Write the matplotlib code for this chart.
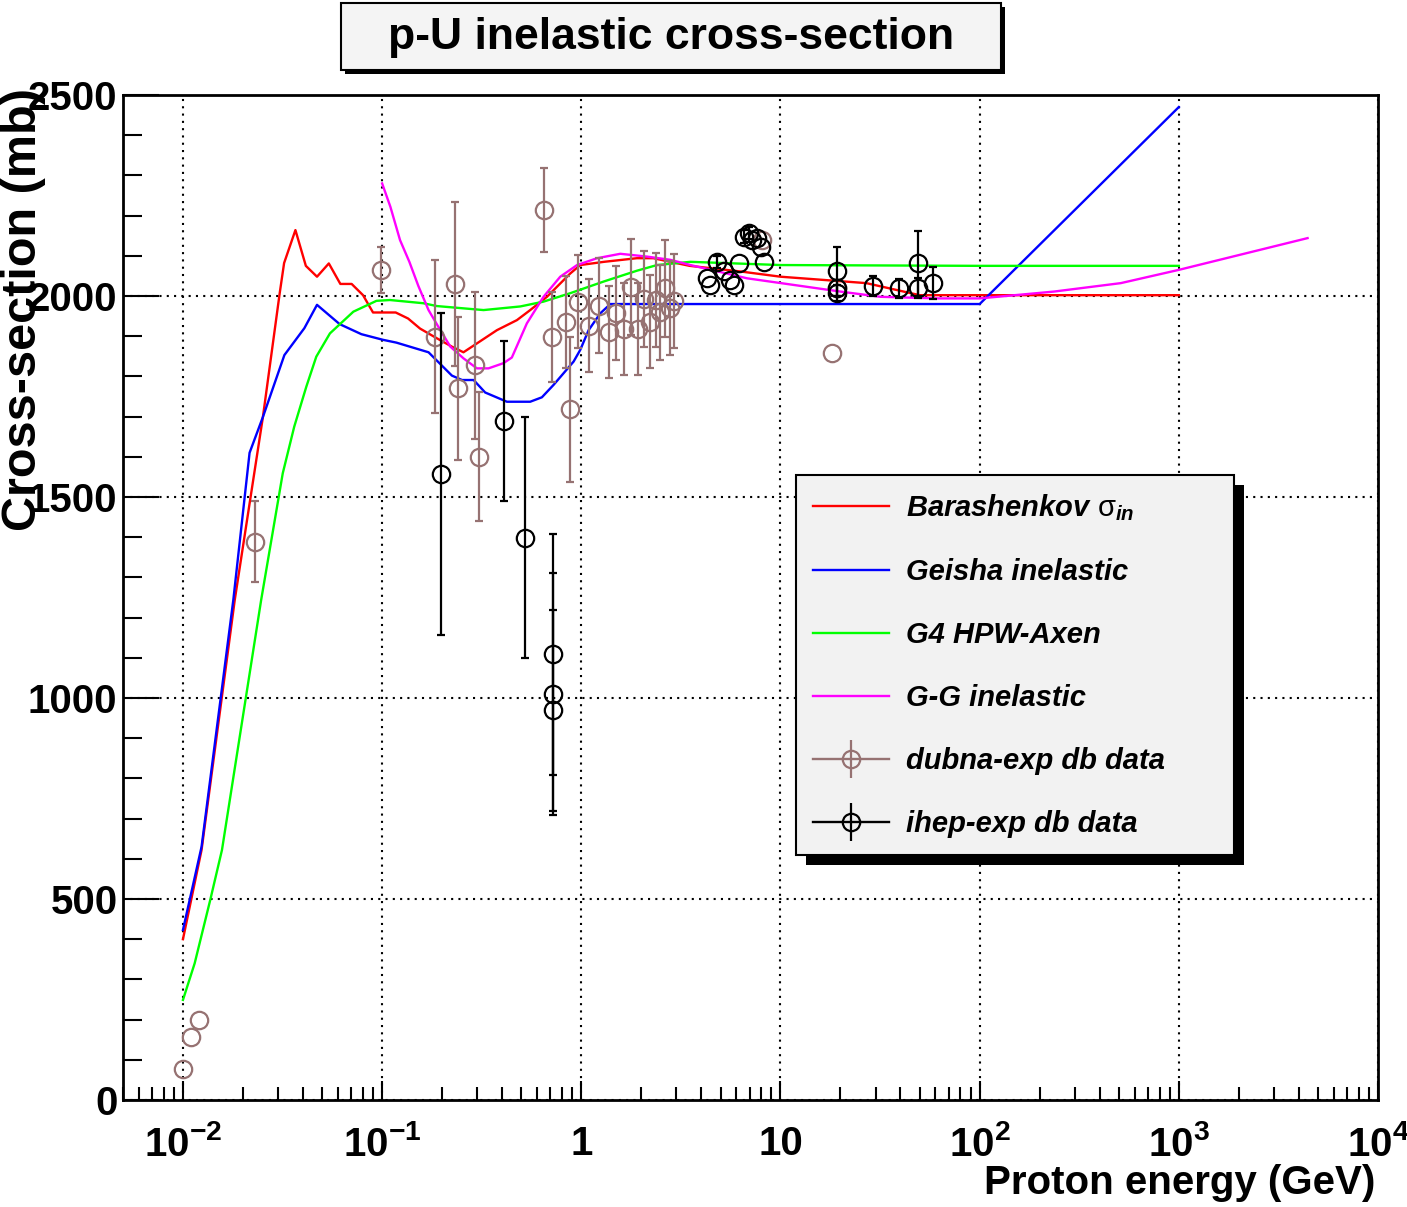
import numpy as np
import matplotlib
matplotlib.use('Agg')
import matplotlib.pyplot as plt
from matplotlib.lines import Line2D
from matplotlib.patches import Rectangle
from matplotlib.ticker import FixedLocator, FixedFormatter, LogLocator, MultipleLocator, NullFormatter

plt.rcParams['font.family'] = ['Liberation Sans', 'DejaVu Sans']
plt.rcParams['mathtext.fontset'] = 'custom'
plt.rcParams['mathtext.rm'] = 'Liberation Sans:bold'
plt.rcParams['mathtext.it'] = 'Liberation Sans:italic:bold'
plt.rcParams['mathtext.bf'] = 'Liberation Sans:bold'
plt.rcParams['mathtext.sf'] = 'Liberation Sans'

# ---------------- data ----------------
bar_E = [0.01, 0.0124, 0.0182, 0.0252, 0.0306, 0.0322, 0.0367, 0.0414, 0.0471, 0.054, 0.0617,
         0.0703, 0.0802, 0.09, 0.117, 0.135, 0.155, 0.188, 0.224, 0.256, 0.299, 0.377, 0.475,
         0.554, 0.672, 0.88, 0.988, 1.3, 1.9, 2.3, 2.8, 3.5, 6.3, 10, 27, 50, 100, 1000]
bar_S = [400, 622, 1244, 1699, 2007, 2082, 2164, 2075, 2048, 2081, 2030,
         2030, 2002, 1959, 1959, 1944, 1919, 1895, 1874, 1860, 1882, 1915, 1940,
         1965, 1998, 2056, 2077, 2085, 2094, 2094, 2085, 2075, 2061, 2048, 2032, 2002, 2002, 2002]

gei_E = [0.01, 0.0124, 0.0179, 0.0216, 0.0252, 0.0323, 0.0407, 0.0471, 0.0612, 0.0787, 0.101,
         0.118, 0.171, 0.224, 0.252, 0.288, 0.329, 0.423, 0.554, 0.634, 0.726, 0.915, 0.988,
         1.088, 1.246, 1.399, 3.53, 10, 100, 1000]
gei_S = [423, 630, 1244, 1610, 1699, 1853, 1920, 1978, 1930, 1905, 1891,
         1884, 1860, 1802, 1791, 1791, 1760, 1737, 1737, 1748, 1779, 1837, 1866,
         1915, 1957, 1980, 1980, 1980, 1980, 2470]

g4_E = [0.01, 0.01145, 0.0137, 0.0157, 0.0247, 0.0317, 0.0362, 0.0416, 0.0467, 0.0547, 0.0717,
        0.0937, 0.1095, 0.161, 0.188, 0.323, 0.494, 0.646, 0.88, 1.295, 1.905, 2.4, 3.53,
        10, 100, 1000]
g4_S = [249, 340, 497, 622, 1244, 1559, 1675, 1774, 1849, 1907, 1961,
        1988, 1990, 1982, 1975, 1965, 1974, 1986, 2007, 2036, 2063, 2077, 2085,
        2077, 2075, 2075]

gg_E = [0.1, 0.110, 0.123, 0.137, 0.152, 0.171, 0.196, 0.22, 0.256, 0.299, 0.342, 0.407, 0.448,
        0.533, 0.646, 0.784, 0.952, 1.2, 1.57, 2.14, 2.8, 3.53, 6.8, 20, 31.8, 61, 100,
        236, 511, 1000, 4430]
gg_S = [2280, 2222, 2139, 2085, 2025, 1965, 1915, 1874, 1845, 1820, 1820, 1833, 1847,
        1932, 1998, 2048, 2077, 2094, 2105, 2098, 2090, 2077, 2044, 2011, 1998, 1994, 1994,
        2011, 2032, 2065, 2144]

dub_E = [0.01, 0.0110, 0.0121, 0.0229, 0.0985, 0.185, 0.233, 0.240, 0.291, 0.307, 0.652,
         0.712, 0.838, 0.880, 0.962, 1.097, 1.231, 1.371, 1.499, 1.645, 1.783, 1.926,
         2.07, 2.20, 2.37, 2.49, 2.64, 2.78, 2.91, 8.1, 18.2, 19.2]
dub_S = [77, 156, 199, 1389, 2065, 1899, 2030, 1770, 1828, 1600, 2214,
         1899, 1935, 1718, 1986, 1926, 1976, 1911, 1957, 1918, 2022, 1918,
         1993, 1936, 1990, 1959, 2019, 1969, 1988, 2139, 1859, 2019]
dub_err = [0, 0, 0, 100, 58, 190, 203, 177, 183, 160, 104,
           112, 115, 180, 115, 116, 118, 115, 117, 115, 120, 115,
           120, 115, 118, 117, 120, 117, 117, 0, 0, 0]

ihep_E = [0.198, 0.410, 0.519, 0.720, 0.720, 0.720, 4.28, 4.45, 4.81, 5.19, 5.61, 5.83,
          6.18, 6.55, 6.94, 7.22, 7.65, 7.95, 8.25, 19.2, 19.2, 19.2, 29.2, 39.5, 49.1,
          49.1, 58.6]
ihep_S = [1557, 1689, 1399, 1109, 1010, 970, 2044, 2027, 2085, 2061, 2040, 2027,
          2081, 2148, 2156, 2139, 2144, 2123, 2085, 2061, 2019, 2007, 2025, 2019, 2081,
          2019, 2032]
ihep_err = [400, 200, 300, 300, 300, 250, 0, 0, 15, 0, 0, 0,
            0, 15, 15, 0, 0, 0, 0, 60, 20, 20, 25, 23, 80,
            25, 40]

x_ticks = [1e-2, 1e-1, 1, 10, 1e2, 1e3, 1e4]
x_tick_labels = [r'$10^{-2}$', r'$10^{-1}$', '1', '10', r'$10^{2}$', r'$10^{3}$', r'$10^{4}$']
y_ticks = [0, 500, 1000, 1500, 2000, 2500]
y_tick_labels = ['0', '500', '1000', '1500', '2000', '2500']

labels = [r'Barashenkov $\mathsf{\sigma}_{\mathit{in}}$', 'Geisha inelastic', 'G4 HPW-Axen',
          'G-G inelastic', 'dubna-exp db data', 'ihep-exp db data']

c_dub = '#967272'

# ---------------- figure ----------------
W, H = 1407, 1207
fig = plt.figure(figsize=(W / 100, H / 100), dpi=100)
ax = fig.add_axes([123 / W, 1 - 1100 / H, (1378 - 123) / W, (1100 - 95) / H])

lw = 1.7
ax.plot(bar_E, bar_S, color='#ff0000', lw=lw, zorder=3)
ax.plot(gei_E, gei_S, color='#0000ff', lw=lw, zorder=3)
ax.plot(g4_E, g4_S, color='#00ff00', lw=lw, zorder=3)
ax.plot(gg_E, gg_S, color='#ff00ff', lw=lw, zorder=3)


def draw_data(E, S, err, color):
    E = np.asarray(E); S = np.asarray(S); err = np.asarray(err)
    m = err > 0
    ax.errorbar(E[m], S[m], yerr=err[m], fmt='none', ecolor=color, elinewidth=1.6,
                capsize=3, capthick=1.6, zorder=4)
    ax.plot(E, S, ls='none', marker='o', ms=12.5, mfc='none', mec=color, mew=1.6, zorder=4)


draw_data(dub_E, dub_S, dub_err, c_dub)
draw_data(ihep_E, ihep_S, ihep_err, 'black')

ax.set_xscale('log')
ax.set_xlim(0.005, 1e4)
ax.set_ylim(0, 2500)

ax.xaxis.set_major_locator(FixedLocator(x_ticks))
ax.xaxis.set_major_formatter(FixedFormatter(x_tick_labels))
ax.xaxis.set_minor_locator(LogLocator(base=10, subs=np.arange(2, 10), numticks=20))
ax.xaxis.set_minor_formatter(NullFormatter())
ax.yaxis.set_major_locator(FixedLocator(y_ticks))
ax.yaxis.set_major_formatter(FixedFormatter(y_tick_labels))
ax.yaxis.set_minor_locator(MultipleLocator(100))

ax.tick_params(axis='both', which='both', direction='in', width=1.5, colors='black',
               top=False, right=False)
ax.tick_params(axis='y', which='major', length=26, pad=4, labelsize=29)
ax.tick_params(axis='y', which='minor', length=13.5)
ax.tick_params(axis='x', which='major', length=14, pad=18, labelsize=29)
ax.tick_params(axis='x', which='minor', length=9.5)
for t in ax.get_xticklabels() + ax.get_yticklabels():
    t.set_fontweight('bold')

ax.grid(True, which='major', color='black', lw=1.5, ls=(0, (1, 2.5)))
for s in ax.spines.values():
    s.set_linewidth(2)

# axis titles
fig.text(1375 / W, 1 - 1183 / H, 'Proton energy (GeV)', ha='right', va='center',
         fontsize=29, fontweight='bold')
fig.text(24 / W, 1 - 88 / H, 'Cross-section (mb)', rotation=90, ha='center', va='top',
         fontsize=35, fontweight='bold')

# title box
fig.add_artist(Rectangle((345 / W, 1 - 74 / H), 660 / W, 67 / H, transform=fig.transFigure,
                         fc='black', ec='none', zorder=1))
fig.add_artist(Rectangle((341 / W, 1 - 70 / H), 660 / W, 67 / H, transform=fig.transFigure,
                         fc='#f4f4f4', ec='black', lw=1.5, zorder=2))
fig.text(671 / W, 1 - 38 / H, 'p-U inelastic cross-section', ha='center', va='center',
         fontsize=32, fontweight='bold', zorder=3)

# legend
handles = [Line2D([], [], color='#ff0000', lw=lw),
           Line2D([], [], color='#0000ff', lw=lw),
           Line2D([], [], color='#00ff00', lw=lw),
           Line2D([], [], color='#ff00ff', lw=lw)]
for c in (c_dub, 'black'):
    handles.append((Line2D([], [], color=c, lw=lw),
                    Line2D([], [], ls='none', marker='o', ms=12.5, mfc='none', mec=c, mew=1.6),
                    Line2D([], [], ls='none', marker='|', ms=27, mec=c, mew=1.6)))

x0 = (796 - 123) / 1255
x1 = (1234 - 123) / 1255
ytop = (1100 - 475) / 1005
leg = ax.legend(handles, labels, loc='upper left', bbox_to_anchor=(x0, ytop - 0.5, x1 - x0, 0.5),
                mode='expand', borderaxespad=0, frameon=True, fancybox=False,
                prop={'family': 'Liberation Sans', 'weight': 'bold', 'style': 'italic', 'size': 21},
                handlelength=2.6, handletextpad=0.6, labelspacing=1.2, borderpad=0.58)
leg.get_frame().set_facecolor('#f2f2f2')
leg.get_frame().set_edgecolor('black')
leg.get_frame().set_linewidth(1.5)
leg.get_frame().set_alpha(1)
leg.set_zorder(10)

fig.canvas.draw()
bb = leg.get_window_extent()
inv = ax.transAxes.inverted()
(ax0, ay0), (ax1, ay1) = inv.transform([[bb.x0 + 10, bb.y0 - 10], [bb.x1 + 10, bb.y1 - 10]])
ax.add_patch(Rectangle((ax0, ay0), ax1 - ax0, ay1 - ay0, transform=ax.transAxes,
                       fc='black', ec='none', zorder=9, clip_on=False))

fig.savefig('out.png', dpi=100, facecolor='white')
